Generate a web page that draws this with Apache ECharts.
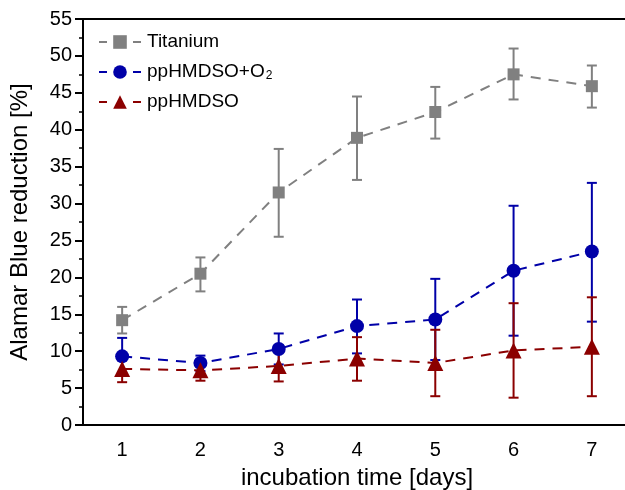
<!DOCTYPE html>
<html>
<head>
<meta charset="utf-8">
<script src="https://cdn.jsdelivr.net/npm/echarts@6/dist/echarts.min.js"></script>
<style>
  html, body { margin: 0; padding: 0; background: #fff; }
  #chart { width: 625px; height: 490px; }
</style>
</head>
<body>
<div id="chart"></div>
<script>
const days = ['1', '2', '3', '4', '5', '6', '7'];

const titaniumMean = [14.2, 20.5, 31.5, 38.9, 42.4, 47.5, 45.9];
const titaniumLow = [12.4, 18.1, 25.5, 33.2, 38.8, 44.1, 43.0];
const titaniumHigh = [16.0, 22.7, 37.4, 44.5, 45.8, 51.0, 48.7];

const oxyMean = [9.3, 8.4, 10.3, 13.4, 14.3, 20.9, 23.5];
const oxyLow = [6.9, 7.3, 8.2, 9.7, 8.8, 12.1, 14.0];
const oxyHigh = [11.8, 9.4, 12.4, 17.0, 19.8, 29.7, 32.8];

const plainMean = [7.6, 7.4, 8.0, 9.0, 8.4, 10.1, 10.6];
const plainLow = [5.8, 6.0, 5.9, 6.0, 3.9, 3.7, 3.9];
const plainHigh = [9.3, 8.8, 10.2, 11.9, 12.9, 16.5, 17.3];

const yTicks = { min: 0, max: 55, step: 5 };

const GRAY = '#808080';
const BLUE = '#0000a8';
const RED = '#8b0000';

// error bar with caps, drawn through the axes
const errorSeries = (name, low, high, color) => ({
  type: 'custom',
  name: name + ' error',
  z: 2,
  silent: true,
  data: low.map((l, i) => [i, l, high[i]]),
  renderItem: (params, api) => {
    const lo = api.coord([api.value(0), api.value(1)]);
    const hi = api.coord([api.value(0), api.value(2)]);
    const cap = 5;
    const style = { stroke: color, lineWidth: 2 };
    return {
      type: 'group',
      children: [
        { type: 'line', shape: { x1: lo[0], y1: lo[1], x2: hi[0], y2: hi[1] }, style },
        { type: 'line', shape: { x1: lo[0] - cap, y1: lo[1], x2: lo[0] + cap, y2: lo[1] }, style },
        { type: 'line', shape: { x1: hi[0] - cap, y1: hi[1], x2: hi[0] + cap, y2: hi[1] }, style },
      ],
    };
  },
});

const lineSeries = (name, values, color, symbol, size, z) => ({
  type: 'line',
  name: name,
  data: values,
  symbol: symbol,
  symbolSize: size,
  z: z,
  itemStyle: { color: color },
  lineStyle: { color: color, width: 2, type: [10, 8] },
});

const chart = echarts.init(document.getElementById('chart'));

chart.setOption({
  animation: false,
  textStyle: { fontFamily: 'Liberation Sans, Arial, sans-serif' },
  grid: { left: 83, right: -6, top: 19, bottom: 65, outerBoundsMode: 'none', containLabel: false },
  legend: {
    orient: 'vertical',
    left: 93,
    top: 27,
    itemWidth: 42,
    itemHeight: 17,
    itemGap: 10,
    data: ['Titanium', 'ppHMDSO+O2', 'ppHMDSO'],
    lineStyle: { width: 2, type: [8, 26] },
    formatter: (n) => (n === 'ppHMDSO+O2' ? 'ppHMDSO+O{sub|2}' : n),
    textStyle: {
      fontSize: 19,
      lineHeight: 20,
      color: '#000',
      padding: [0, 0, 0, 1],
      rich: { sub: { fontSize: 12, verticalAlign: 'bottom', padding: [12, 0, 0, 1] } },
    },
  },
  xAxis: [
    {
      type: 'category',
      data: days,
      boundaryGap: true,
      name: 'incubation time [days]',
      nameLocation: 'middle',
      nameGap: 41,
      nameTextStyle: { fontSize: 24, color: '#000' },
      axisLine: { lineStyle: { color: '#000', width: 2 } },
      axisTick: { alignWithLabel: true, length: 7, lineStyle: { color: '#000', width: 2 } },
      axisLabel: { fontSize: 20, color: '#000', margin: 15 },
      splitLine: { show: false },
    },
    {
      type: 'category',
      data: days,
      position: 'top',
      axisLine: { lineStyle: { color: '#000', width: 2 } },
      axisTick: { show: false },
      axisLabel: { show: false },
    },
  ],
  yAxis: {
    type: 'value',
    min: yTicks.min,
    max: yTicks.max,
    interval: yTicks.step,
    name: 'Alamar Blue reduction [%]',
    nameLocation: 'middle',
    nameGap: 51,
    nameTextStyle: { fontSize: 24, color: '#000' },
    axisLine: { show: true, lineStyle: { color: '#000', width: 2 } },
    axisTick: { show: true, length: 8, lineStyle: { color: '#000', width: 2 } },
    minorTick: { show: true, splitNumber: 2, length: 4, lineStyle: { color: '#000', width: 1.5 } },
    axisLabel: { fontSize: 20, color: '#000', margin: 11 },
    splitLine: { show: false },
  },
  series: [
    errorSeries('Titanium', titaniumLow, titaniumHigh, GRAY),
    lineSeries('Titanium', titaniumMean, GRAY, 'rect', 12, 3),
    errorSeries('ppHMDSO+O2', oxyLow, oxyHigh, BLUE),
    lineSeries('ppHMDSO+O2', oxyMean, BLUE, 'circle', 14, 4),
    errorSeries('ppHMDSO', plainLow, plainHigh, RED),
    lineSeries('ppHMDSO', plainMean, RED, 'triangle', 16, 5),
  ],
});
</script>
</body>
</html>
